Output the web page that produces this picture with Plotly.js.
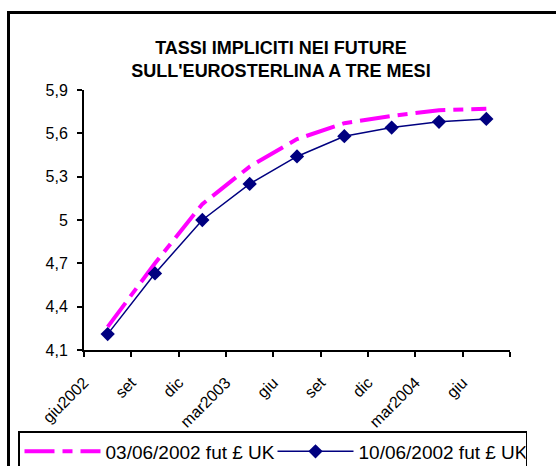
<!DOCTYPE html>
<html>
<head>
<meta charset="utf-8">
<script src="https://cdn.plot.ly/plotly-3.0.1.min.js"></script>
<style>
  html, body { margin: 0; padding: 0; background: #fff; }
  #wrap { position: relative; width: 556px; height: 466px; overflow: hidden; }
  #chart { width: 556px; height: 466px; }
  #frame { position: absolute; left: 7px; top: 11px; width: 600px; height: 600px;
           border: 3px solid #000; pointer-events: none; }
</style>
</head>
<body>
<div id="wrap">
  <div id="chart"></div>
  <div id="frame"></div>
</div>
<script>
// ---- data ----
var tickLabels = ["giu2002", "set", "dic", "mar2003", "giu", "set", "dic", "mar2004", "giu", ""];
var seriesNames = ["03/06/2002 fut £ UK", "10/06/2002 fut £ UK"];
var rates0306 = [4.26, 4.70, 5.11, 5.37, 5.56, 5.67, 5.72, 5.76, 5.77];
var rates1006 = [4.21, 4.63, 5.00, 5.25, 5.44, 5.58, 5.64, 5.68, 5.70];
var yTicks = [4.1, 4.4, 4.7, 5.0, 5.3, 5.6, 5.9];

// point positions: one per contract, ticks sit between contracts
var xPts = rates1006.map(function (v, i) { return i; });
var xTickVals = tickLabels.map(function (v, i) { return i - 0.5; });
var yRange = [yTicks[0], yTicks[yTicks.length - 1]];
var xRange = [xTickVals[0], xTickVals[xTickVals.length - 1]];

var FONT = "Liberation Sans, Arial, sans-serif";

var traces = [
  {
    x: xPts, y: rates0306, name: seriesNames[0], type: "scatter", mode: "lines",
    line: { color: "#FF00FF", width: 4, dash: "30px,8px,10px,8px" },
    hoverinfo: "skip"
  },
  {
    x: xPts, y: rates1006, name: seriesNames[1], type: "scatter", mode: "lines+markers",
    line: { color: "#000080", width: 1.5 },
    marker: { symbol: "diamond", size: 11, color: "#000080" },
    hoverinfo: "skip"
  }
];

var baseY = {
  range: yRange, tickvals: yTicks, showgrid: false, zeroline: false,
  linecolor: "#000", linewidth: 2, tickcolor: "#000", tickwidth: 2, automargin: false,
  tickfont: { family: FONT, size: 16, color: "#000" }, fixedrange: true
};

var layout = {
  width: 556, height: 466,
  margin: { l: 84, r: 46, t: 90, b: 116, autoexpand: false },
  paper_bgcolor: "rgba(0,0,0,0)", plot_bgcolor: "rgba(0,0,0,0)",
  separators: ", ",
  showlegend: true,
  title: {
    text: "<b>TASSI IMPLICITI NEI FUTURE<br>SULL'EUROSTERLINA A TRE MESI</b>",
    font: { family: FONT, size: 18, color: "#000" },
    x: 281 / 556, xanchor: "center", xref: "container",
    y: 1 - 54 / 466, yanchor: "middle", yref: "container", automargin: false
  },
  xaxis: {
    range: xRange, tickmode: "array", tickvals: xTickVals, ticktext: tickLabels,
    tickangle: -45, showgrid: false, zeroline: false, automargin: false,
    showline: true, linecolor: "#000", linewidth: 2,
    ticks: "outside", ticklen: 5, tickcolor: "#000", tickwidth: 2, ticklabelstandoff: 10,
    tickfont: { family: FONT, size: 16, color: "#000" }, fixedrange: true
  },
  xaxis2: {
    overlaying: "x", range: xRange, tickmode: "array", tickvals: xTickVals,
    showticklabels: false, showgrid: false, zeroline: false, showline: false, automargin: false,
    ticks: "inside", ticklen: 5, tickcolor: "#000", tickwidth: 2, fixedrange: true
  },
  yaxis: Object.assign({}, baseY, {
    side: "left", showline: true, ticks: "outside", ticklen: 5, ticklabelstandoff: 6
  }),
  yaxis2: Object.assign({}, baseY, {
    overlaying: "y", side: "right", showline: true, ticks: "outside", ticklen: 5,
    ticklabelstandoff: 6
  }),
  yaxis3: Object.assign({}, baseY, {
    overlaying: "y", side: "left", showline: false, ticks: "inside", ticklen: 5,
    showticklabels: false
  }),
  yaxis4: Object.assign({}, baseY, {
    overlaying: "y", side: "right", showline: false, ticks: "inside", ticklen: 5,
    showticklabels: false
  }),
  legend: {
    orientation: "h", xref: "paper", yref: "paper",
    x: (18 - 84) / 426, xanchor: "left",
    y: (350 - 431) / 260, yanchor: "top",
    bgcolor: "#fff", bordercolor: "#000", borderwidth: 1.5,
    font: { family: FONT, size: 19, color: "#000" },
    itemwidth: 76, entrywidth: 162, tracegroupgap: 0
  }
};

Plotly.newPlot("chart", traces, layout, { staticPlot: true, displayModeBar: false });
</script>
</body>
</html>
